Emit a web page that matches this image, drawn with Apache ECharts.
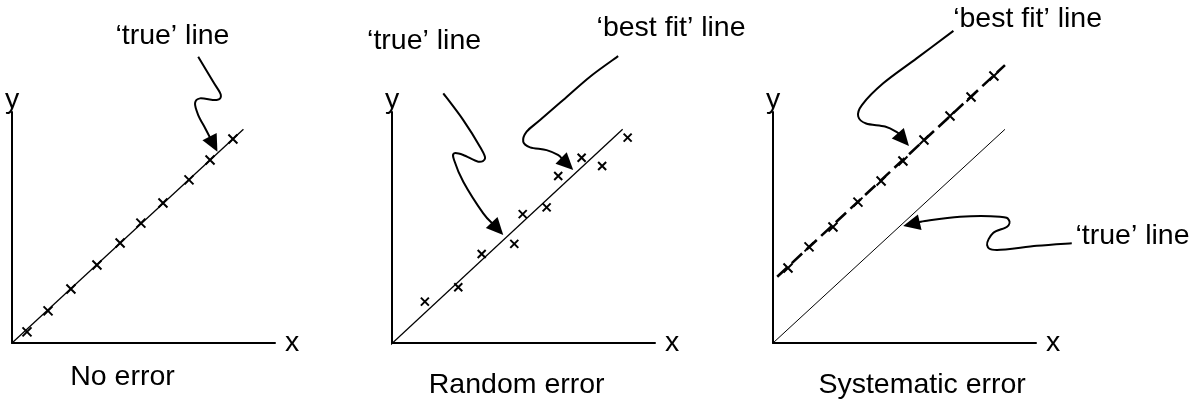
<!DOCTYPE html>
<html>
<head>
<meta charset="utf-8">
<title>Random and systematic error</title>
<script src="https://cdn.jsdelivr.net/npm/echarts@6/dist/echarts.min.js"></script>
<style>
  html, body { margin: 0; padding: 0; background: #fff; }
  #main { width: 1201px; height: 404px; }
</style>
</head>
<body>
<div id="main"></div>
<script>
// every panel uses the same frame: x 0..100, y 0..100
var panelTitles = ['No error', 'Random error', 'Systematic error'];

// plotted readings
var noErrX = [5.7, 13.7, 22.4, 32.3, 41.1, 49.0, 57.4, 67.3, 75.3, 84.0];
var noErrY = [4.8, 13.9, 23.4, 33.8, 43.3, 51.9, 60.6, 70.6, 79.2, 88.3];
var randErrX = [12.5, 25.2, 34.1, 46.5, 49.7, 58.8, 63.2, 72.1, 79.9, 89.6];
var randErrY = [17.9, 24.1, 38.5, 42.9, 55.8, 58.7, 72.3, 80.2, 76.6, 88.9];
var sysErrX = [5.7, 13.7, 22.8, 32.3, 41.1, 49.4, 57.4, 67.3, 75.3, 84.0];
var sysErrY = [32.5, 41.6, 50.2, 61.0, 70.1, 78.8, 87.9, 98.3, 106.5, 115.6];

// 'true' line of each panel (start, end)
var trueX = [[0, 88.0], [-2.0, 87.7], [0, 88.2]];
var trueY = [[0, 92.5], [-2.3, 92.5], [0, 92.5]];
// 'best fit' line of the systematic panel
var fitX = [1.6, 88.2];
var fitY = [28.7, 120.3];

// annotation arrows, last point is the tip
var arrowPanel = [0, 1, 1, 2, 2];
var arrowX = [
    [70.8, 76.5, 79.4, 77.8, 71.5, 69.6, 70.8, 73.4, 78.1],
    [19.5, 27.1, 33.5, 35.4, 32.8, 27.1, 23.6, 23.6, 27.1, 34.7, 42.3],
    [86.0, 75.3, 65.1, 56.3, 51.2, 49.9, 52.5, 58.8, 63.1, 68.9],
    [68.6, 54.6, 41.9, 33.8, 32.4, 35.4, 42.6, 47.1, 51.7],
    [113.6, 100.3, 85.1, 81.4, 83.7, 89.0, 89.7, 86.3, 71.1, 57.8, 49.5]
];
var arrowY = [
    [123.9, 113.1, 107.4, 105.2, 105.9, 103.8, 98.7, 93.1, 82.8],
    [108.1, 96.5, 84.9, 80.0, 78.5, 81.4, 82.1, 79.2, 69.8, 56.1, 46.8],
    [124.2, 115.3, 105.2, 96.5, 91.5, 87.1, 84.7, 83.5, 81.4, 74.9],
    [135.1, 123.2, 112.4, 103.0, 98.1, 95.0, 93.7, 91.3, 85.3],
    [43.2, 42.1, 40.3, 42.4, 47.6, 50.3, 53.2, 54.7, 54.7, 52.8, 50.6]
];

// annotation labels
var noteText = ['\u2018true\u2019 line', '\u2018true\u2019 line', '\u2018best fit\u2019 line', '\u2018best fit\u2019 line', '\u2018true\u2019 line'];
var notePanel = [0, 1, 1, 2, 2];
var noteX = [61.0, 12.2, 106.1, 96.8, 136.7];
var noteY = [132.9, 130.7, 136.4, 140.3, 46.3];

// captions under the panels
var captionX = [42.0, 47.4, 56.7];
var captionY = [-14.7, -18.2, -18.2];

var FONT = '"Liberation Sans", Arial, Helvetica, sans-serif';
var gridLeft = [12, 392, 773];
var crossMark = 'path://M0,0L10,10M0,10L10,0';

function toPairs(xs, ys) {
    return xs.map(function (x, i) { return [x, ys[i]]; });
}

// catmull-rom through the points, as svg path data
function smoothPath(pts) {
    var d = 'M' + pts[0][0] + ',' + pts[0][1];
    var n = pts.length;
    for (var i = 0; i < n - 1; i++) {
        var p0 = pts[i > 0 ? i - 1 : 0];
        var p1 = pts[i];
        var p2 = pts[i + 1];
        var p3 = pts[i + 2 < n ? i + 2 : n - 1];
        d += 'C' + (p1[0] + (p2[0] - p0[0]) / 6) + ',' + (p1[1] + (p2[1] - p0[1]) / 6) + ','
            + (p2[0] - (p3[0] - p1[0]) / 6) + ',' + (p2[1] - (p3[1] - p1[1]) / 6) + ','
            + p2[0] + ',' + p2[1];
    }
    return d;
}

function renderArrow(params, api) {
    var k = api.value(2);
    var pts = arrowX[k].map(function (x, i) { return api.coord([x, arrowY[k][i]]); });
    var tip = pts[pts.length - 1];
    var prev = pts[pts.length - 2];
    var dx = tip[0] - prev[0], dy = tip[1] - prev[1];
    var len = Math.sqrt(dx * dx + dy * dy);
    dx /= len; dy /= len;
    var headLen = 17, headW = 8;
    var base = [tip[0] - dx * headLen, tip[1] - dy * headLen];
    var curve = pts.slice(0, -1).concat([[base[0] + dx * 2, base[1] + dy * 2]]);
    return {
        type: 'group',
        children: [
            {
                type: 'path',
                shape: { pathData: smoothPath(curve) },
                style: { fill: 'none', stroke: '#000', lineWidth: 2 }
            },
            {
                type: 'polygon',
                shape: { points: [tip, [base[0] - dy * headW, base[1] + dx * headW], [base[0] + dy * headW, base[1] - dx * headW]] },
                style: { fill: '#000' }
            }
        ]
    };
}

function renderText(params, api) {
    var p = api.coord([api.value(0), api.value(1)]);
    var k = api.value(2);
    var isNote = api.value(3) === 1;
    return {
        type: 'text',
        x: p[0],
        y: p[1],
        style: {
            text: isNote ? noteText[k] : panelTitles[k],
            fill: '#000',
            font: '28.5px ' + FONT,
            align: 'center',
            verticalAlign: 'middle'
        }
    };
}

var myChart = echarts.init(document.getElementById('main'));

var grids = [], xAxes = [], yAxes = [], series = [];
var axisLine = { show: true, onZero: false, lineStyle: { color: '#000', width: 2 } };
var nameStyle = { fontSize: 28.5, color: '#000', fontFamily: FONT };

for (var p = 0; p < 3; p++) {
    grids.push({ left: gridLeft[p], top: 112, width: 263, height: 231 });
    xAxes.push({
        type: 'value', gridIndex: p, min: 0, max: 100,
        axisLine: axisLine, axisTick: { show: false }, axisLabel: { show: false }, splitLine: { show: false },
        name: 'x', nameLocation: 'end', nameGap: 10, nameTextStyle: nameStyle
    });
    yAxes.push({
        type: 'value', gridIndex: p, min: 0, max: 100,
        axisLine: axisLine, axisTick: { show: false }, axisLabel: { show: false }, splitLine: { show: false },
        name: 'y', nameLocation: 'end', nameGap: 12,
        nameTextStyle: { fontSize: 28.5, color: '#000', fontFamily: FONT, verticalAlign: 'middle', align: 'center' }
    });
    series.push({
        type: 'line', xAxisIndex: p, yAxisIndex: p, clip: false, silent: true,
        symbol: 'none',
        lineStyle: { color: '#000', width: p === 2 ? 1 : 1.3 },
        data: toPairs(trueX[p], trueY[p])
    });
}

series.push({
    type: 'line', xAxisIndex: 2, yAxisIndex: 2, clip: false, silent: true,
    symbol: 'none',
    lineStyle: { color: '#000', width: 2.6, type: [14, 6] },
    data: toPairs(fitX, fitY)
});

var markSets = [[noErrX, noErrY], [randErrX, randErrY], [sysErrX, sysErrY]];
markSets.forEach(function (m, p) {
    series.push({
        type: 'scatter', xAxisIndex: p, yAxisIndex: p, clip: false, silent: true,
        symbol: crossMark,
        symbolSize: p === 1 ? 8 : 9,
        itemStyle: { color: '#000', borderColor: '#000', borderWidth: 2, opacity: 1 },
        data: toPairs(m[0], m[1])
    });
});

for (var q = 0; q < 3; q++) {
    var arrowRows = [];
    arrowPanel.forEach(function (panel, k) {
        if (panel === q) {
            var last = arrowX[k].length - 1;
            arrowRows.push([arrowX[k][last], arrowY[k][last], k]);
        }
    });
    series.push({
        type: 'custom', xAxisIndex: q, yAxisIndex: q, clip: false, silent: true,
        renderItem: renderArrow,
        encode: { x: 0, y: 1 },
        data: arrowRows
    });

    var textRows = [[captionX[q], captionY[q], q, 0]];
    notePanel.forEach(function (panel, k) {
        if (panel === q) textRows.push([noteX[k], noteY[k], k, 1]);
    });
    series.push({
        type: 'custom', xAxisIndex: q, yAxisIndex: q, clip: false, silent: true,
        renderItem: renderText,
        encode: { x: 0, y: 1 },
        data: textRows
    });
}

var option = {
    backgroundColor: '#fff',
    animation: false,
    grid: grids,
    xAxis: xAxes,
    yAxis: yAxes,
    series: series
};
myChart.setOption(option);
</script>
</body>
</html>
